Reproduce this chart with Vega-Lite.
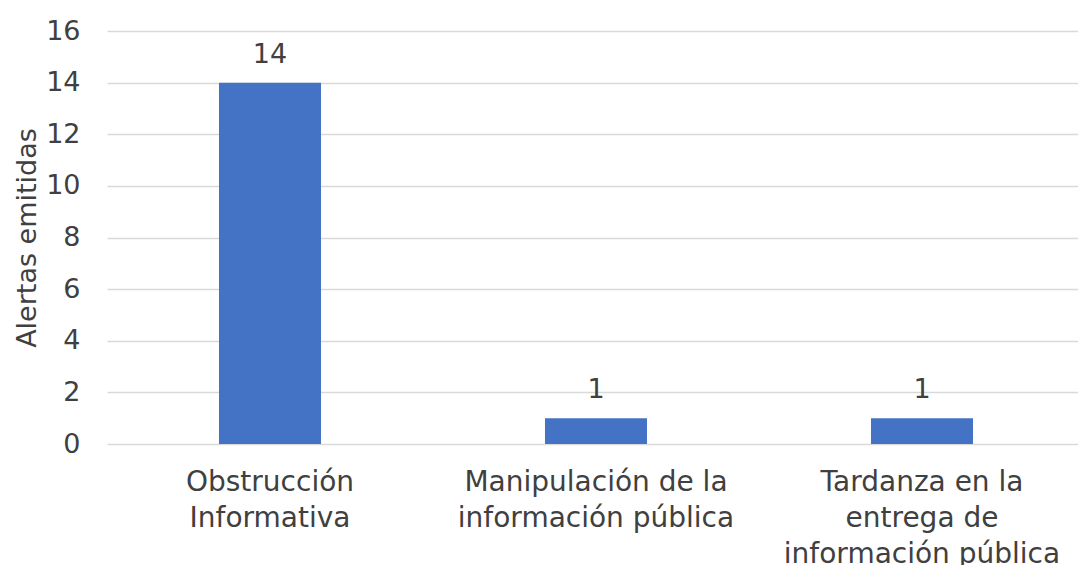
{
  "$schema": "https://vega.github.io/schema/vega-lite/v6.json",
  "width": 978,
  "height": 413,
  "autosize": {"type": "none"},
  "padding": {"left": 107, "top": 31, "right": 0, "bottom": 121},
  "background": "white",
  "config": {
    "view": {"stroke": null},
    "font": "DejaVu Sans",
    "axis": {"labelFont": "DejaVu Sans", "titleFont": "DejaVu Sans", "labelColor": "#404040", "titleColor": "#404040"}
  },
  "data": {
    "values": [
      {"categoria": "Obstrucción Informativa", "alertas": 14},
      {"categoria": "Manipulación de la información pública", "alertas": 1},
      {"categoria": "Tardanza en la entrega de información pública", "alertas": 1}
    ]
  },
  "encoding": {
    "x": {
      "field": "categoria",
      "type": "nominal",
      "sort": null,
      "scale": {"paddingInner": 0.687, "paddingOuter": 0.3435},
      "axis": {
        "title": null,
        "domain": false,
        "ticks": false,
        "labelAngle": 0,
        "labelFontSize": 28,
        "labelLineHeight": 36,
        "labelPadding": 24,
        "labelLimit": 500,
        "labelExpr": "datum.value == 'Obstrucción Informativa' ? ['Obstrucción', 'Informativa'] : datum.value == 'Manipulación de la información pública' ? ['Manipulación de la', 'información pública'] : ['Tardanza en la', 'entrega de', 'información pública']"
      }
    },
    "y": {
      "field": "alertas",
      "type": "quantitative",
      "scale": {"domain": [0, 16], "nice": false},
      "axis": {
        "title": "Alertas emitidas",
        "titleFontSize": 27,
        "titleFontWeight": "normal",
        "titlePadding": 4,
        "values": [0, 2, 4, 6, 8, 10, 12, 14, 16],
        "domain": false,
        "ticks": false,
        "labelFontSize": 27,
        "labelPadding": 27,
        "gridColor": "#d9d9d9",
        "gridWidth": 1.5
      }
    }
  },
  "layer": [
    {"mark": {"type": "bar", "color": "#4472C4"}},
    {"mark": {"type": "text", "baseline": "alphabetic", "dy": -20, "fontSize": 27, "color": "#404040"}, "encoding": {"text": {"field": "alertas", "type": "quantitative"}}}
  ]
}
